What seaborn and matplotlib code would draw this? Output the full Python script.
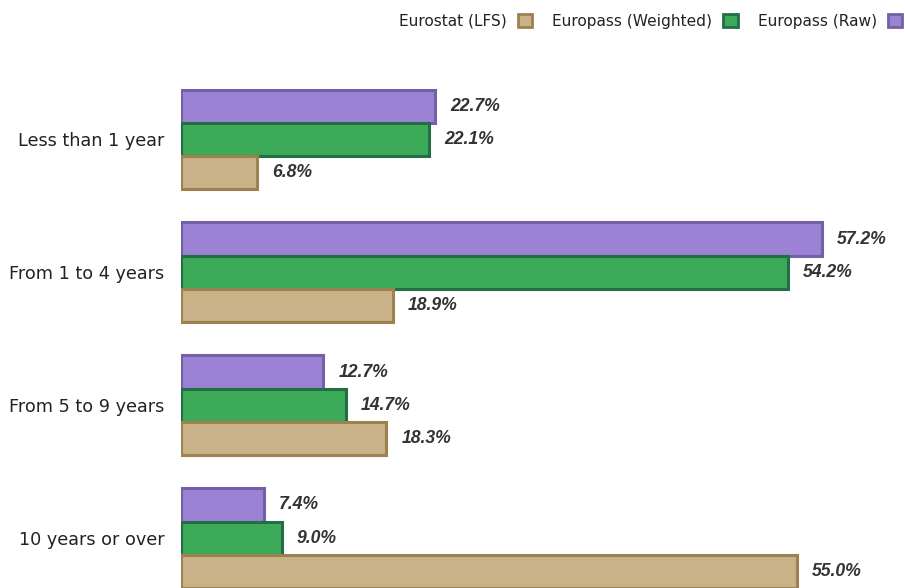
import matplotlib
matplotlib.use("Agg")
import matplotlib.pyplot as plt
from matplotlib.patches import Patch
import pandas as pd
import seaborn as sns

categories = ["Less than 1 year", "From 1 to 4 years", "From 5 to 9 years", "10 years or over"]
series_names = ["Europass (Raw)", "Europass (Weighted)", "Eurostat (LFS)"]
europass_raw = [22.7, 57.2, 12.7, 7.4]
europass_weighted = [22.1, 54.2, 14.7, 9.0]
eurostat_lfs = [6.8, 18.9, 18.3, 55.0]

fills = {"Europass (Raw)": "#9b82d4", "Europass (Weighted)": "#3daa5a", "Eurostat (LFS)": "#c9b287"}
edges = {"Europass (Raw)": "#7560a8", "Europass (Weighted)": "#236e45", "Eurostat (LFS)": "#9e8150"}

df = pd.DataFrame({
    "duration": categories * 3,
    "share": europass_raw + europass_weighted + eurostat_lfs,
    "source": [s for s in series_names for _ in categories],
})

sns.set_theme(style="white")
plt.rcParams["font.family"] = ["DejaVu Sans"]

fig = plt.figure(figsize=(9.05, 5.88), dpi=100)
ax = fig.add_axes([181 / 905, 0.0, 1 - 181 / 905, 1.0])

sns.barplot(data=df, y="duration", x="share", hue="source", hue_order=series_names,
            order=categories, palette=fills, orient="h", width=0.75, ax=ax,
            legend=False, saturation=1)

for cont, name in zip(ax.containers, series_names):
    for bar in cont:
        bar.set_edgecolor(edges[name])
        bar.set_linewidth(2.2)
    ax.bar_label(cont, fmt="%.1f%%", padding=11,
                 fontfamily="Liberation Sans", fontweight="bold", fontstyle="italic",
                 fontsize=12.7, color="#333333")

ax.set_xlim(0, (905 - 181) / 11.2)
ax.set_ylim(3.375, -1.049)
ax.set_xlabel("")
ax.set_ylabel("")
ax.set_xticks([])
for s in ax.spines.values():
    s.set_visible(False)
ax.tick_params(axis="y", length=0, pad=12, labelsize=12.7, labelcolor="#222222")

handles = [Patch(facecolor=fills[n], edgecolor=edges[n], linewidth=2) for n in series_names[::-1]]
fig.legend(handles, series_names[::-1], loc="upper right", bbox_to_anchor=(1.003, 0.986),
           ncol=3, markerfirst=False, frameon=False, fontsize=11.1,
           handlelength=0.95, handleheight=0.95, handletextpad=0.7, columnspacing=1.3,
           borderaxespad=0.0, borderpad=0.35, labelcolor="#222222")

fig.savefig("out.png", dpi=100)
